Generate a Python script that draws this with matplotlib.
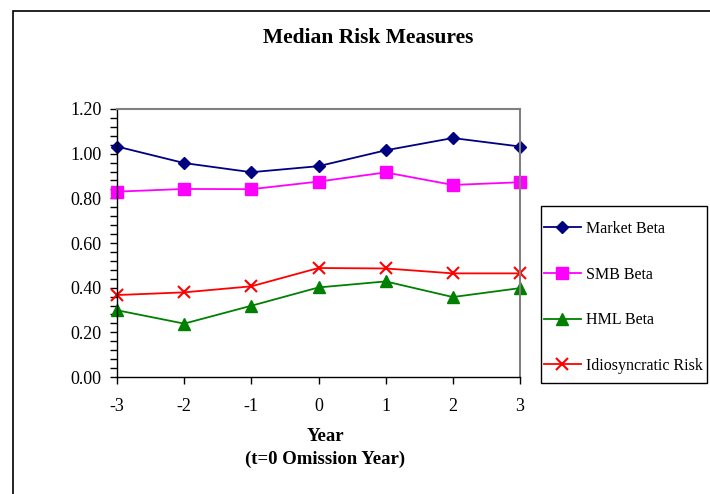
import matplotlib
matplotlib.use("Agg")
import matplotlib.pyplot as plt
from matplotlib.patches import Rectangle
from matplotlib.ticker import MultipleLocator, FormatStrFormatter

years = [-3, -2, -1, 0, 1, 2, 3]
market_beta = [1.032, 0.958, 0.917, 0.944, 1.015, 1.070, 1.032]
smb_beta = [0.830, 0.842, 0.841, 0.875, 0.916, 0.860, 0.872]
hml_beta = [0.299, 0.239, 0.319, 0.401, 0.428, 0.358, 0.398]
idio_risk = [0.367, 0.379, 0.406, 0.488, 0.486, 0.464, 0.464]

plt.rcParams['font.family'] = ['Liberation Serif', 'DejaVu Serif']
plt.rcParams['axes.unicode_minus'] = False

W, H = 710, 494
fig = plt.figure(figsize=(7.1, 4.94), dpi=100)
ax = fig.add_axes([117 / W, 1 - 377 / H, (520 - 117) / W, (377 - 109) / H])

ax.plot(years, market_beta, color='#000080', marker='D', markersize=6, lw=1.3,
        clip_on=False, label='Market Beta')
ax.plot(years, smb_beta, color='#FF00FF', marker='s', markersize=8, lw=1.3,
        clip_on=False, label='SMB Beta')
ax.plot(years, hml_beta, color='#008000', marker='^', markersize=8, lw=1.3,
        clip_on=False, label='HML Beta')
ax.plot(years, idio_risk, color='#FF0000', marker='x', markersize=8, mew=1.5, lw=1.3,
        clip_on=False, label='Idiosyncratic Risk')

ax.set_xlim(-3, 3)
ax.set_ylim(0, 1.2)
ax.set_xticks(years)
ax.yaxis.set_major_locator(MultipleLocator(0.2))
ax.yaxis.set_minor_locator(MultipleLocator(0.04))
ax.yaxis.set_major_formatter(FormatStrFormatter('%.2f'))
ax.tick_params(axis='both', direction='out', length=5, width=1, labelsize=13, pad=6)
ax.tick_params(axis='y', which='minor', direction='out', length=5, width=1)
ax.tick_params(axis='x', pad=10)

for side in ['top', 'right']:
    ax.spines[side].set_color('#808080')
    ax.spines[side].set_linewidth(1.5)
for side in ['left', 'bottom']:
    ax.spines[side].set_color('black')
    ax.spines[side].set_linewidth(1)

fig.text(368 / W, 1 - 38 / H, 'Median Risk Measures', ha='center', va='center',
         fontsize=15.5, fontweight='bold')
fig.text(325 / W, 1 - 436 / H, 'Year', ha='center', va='center', fontsize=13.5, fontweight='bold')
fig.text(325 / W, 1 - 459 / H, '(t=0 Omission Year)', ha='center', va='center',
         fontsize=13.5, fontweight='bold')

# legend entries without frame, box drawn separately
handles, labels = ax.get_legend_handles_labels()
leg = fig.legend(handles, labels, loc='upper left', bbox_to_anchor=(544 / W, 1 - 221 / H),
                 fontsize=11.5, frameon=False, labelspacing=1.85, handlelength=2.3,
                 handletextpad=0.3, borderpad=0, borderaxespad=0)
fig.patches.append(Rectangle((541 / W, 1 - 383 / H), 166 / W, 177 / H,
                             transform=fig.transFigure, fill=False,
                             edgecolor='black', lw=1))

# outer chart border
fig.patches.append(Rectangle((13 / W, -0.5), 1.5, 1.5 - 11 / H,
                             transform=fig.transFigure, fill=False,
                             edgecolor='black', lw=1.2))

fig.savefig('out.png', dpi=100)
